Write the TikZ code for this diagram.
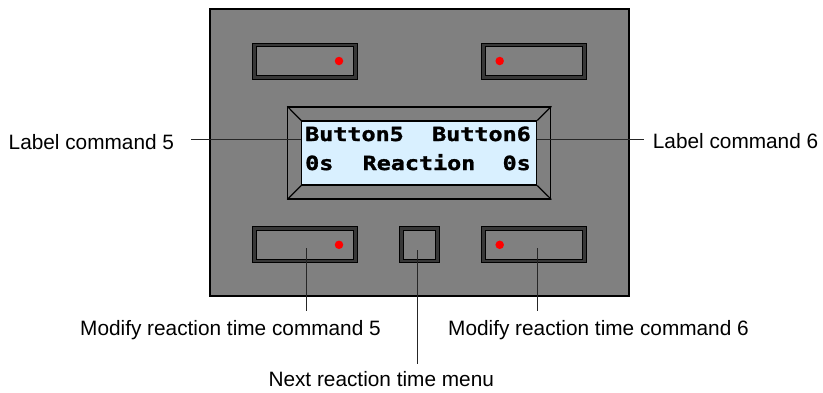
\documentclass[tikz,border=0pt]{standalone}
\usepackage{fontspec}
\setmainfont{Liberation Sans}
\newfontfamily\lcdfont[FakeStretch=1.2,BoldFeatures={FakeBold=1.5}]{DejaVu Sans Mono}
\definecolor{panelgray}{RGB}{128,128,128}
\definecolor{framegray}{RGB}{56,56,56}
\definecolor{lcdblue}{RGB}{217,240,255}

\begin{document}
\begin{tikzpicture}[x=1pt,y=-1pt,
  caption/.style={font=\fontsize{20.8}{24}\selectfont, inner sep=0pt},
  btnouter/.style={draw=black, fill=framegray, line width=1pt, inner sep=0pt},
  btninner/.style={draw=black, fill=panelgray, line width=1pt, inner sep=0pt},
  led/.style={circle, fill=red, inner sep=0pt, minimum size=8.5pt},
  lcd/.style={font=\lcdfont\bfseries\fontsize{19.5}{22}\selectfont, inner sep=0pt},
  pointer/.style={draw=black!85, line width=0.9pt}]
\useasboundingbox (0,0) rectangle (823,392);
% front panel
\node[draw=black, line width=1.3pt, fill=panelgray, minimum width=419pt, minimum height=287pt, inner sep=0pt] (panel) at (419.5,152.5) {};
% display
\node[draw=black, line width=1.2pt, fill=panelgray, minimum width=263pt, minimum height=92pt, inner sep=0pt] (bezel) at (419.3,152.9) {};
\node[draw=black, line width=1.2pt, fill=lcdblue, minimum width=235pt, minimum height=64pt, inner sep=0pt] (scr) at (419.2,153) {};
\draw[line width=1.2pt] (bezel.north west) -- (scr.north west);
\draw[line width=1.2pt] (bezel.north east) -- (scr.north east);
\draw[line width=1.2pt] (bezel.south west) -- (scr.south west);
\draw[line width=1.2pt] (bezel.south east) -- (scr.south east);
\node[lcd, anchor=base west] (row1l) at (305,141) {Button5};
\node[lcd, anchor=base east] (row1r) at (531,141) {Button6};
\node[lcd, anchor=base west] (row2l) at (305,170) {0s};
\node[lcd, anchor=base] (row2m) at (419,170) {Reaction};
\node[lcd, anchor=base east] (row2r) at (531,170) {0s};
% buttons
\foreach \name/\cx/\cy/\w in {b5top/304.5/61/105, b6top/534.2/61/105, b5bot/304.5/244.8/105, menu/419.3/244.8/40, b6bot/534.2/244.8/105}{
  \node[btnouter, minimum width=\w pt, minimum height=36pt] (\name) at (\cx,\cy) {};
  \node[btninner, minimum width=\w pt-8pt, minimum height=29pt] (\name-in) at (\name.center) {};
}
\node[led] (led5top) at ([xshift=34.5pt]b5top.center) {};
\node[led] (led6top) at ([xshift=-34.5pt]b6top.center) {};
\node[led] (led5bot) at ([xshift=34.5pt]b5bot.center) {};
\node[led] (led6bot) at ([xshift=-34.5pt]b6bot.center) {};
% captions
\node[caption, anchor=base west] (lbl5) at (8.5,149) {Label command 5};
\node[caption, anchor=base west] (lbl6) at (652.7,148) {Label command 6};
\node[caption, anchor=base west] (mod5) at (80,335) {Modify reaction time command 5};
\node[caption, anchor=base west] (mod6) at (448,335) {Modify reaction time command 6};
\node[caption, anchor=base west] (next) at (268.3,386) {Next reaction time menu};
% pointers
\coordinate (p5) at (191,139);
\coordinate (p6) at (644,139);
\draw[pointer] (p5) -- (p5 -| scr.west);
\draw[pointer] (p6 -| scr.east) -- (p6);
\coordinate (q5) at (306,248);
\coordinate (q5end) at (306,311);
\coordinate (qm) at (417.3,250);
\coordinate (qmend) at (417.3,364);
\coordinate (q6) at (537.3,248);
\coordinate (q6end) at (537.3,311);
\draw[pointer] (q5) -- (q5end);
\draw[pointer] (qm) -- (qmend);
\draw[pointer] (q6) -- (q6end);
\end{tikzpicture}
\end{document}
